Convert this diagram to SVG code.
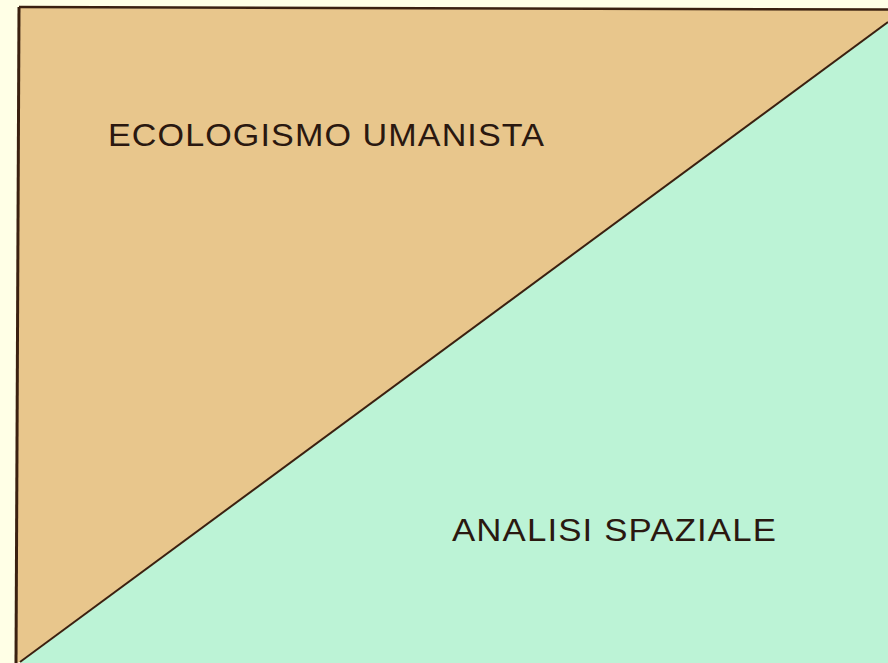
<svg xmlns="http://www.w3.org/2000/svg" width="888" height="663" viewBox="0 0 888 663">
<style>
.lbl{font-family:"Liberation Sans",Arial,sans-serif;font-size:31px;fill:#2a1810;letter-spacing:1px}
.edge{stroke:#3a2010;fill:none}
</style>
<rect x="0" y="0" width="888" height="663" fill="#FFFFE6"/>
<g id="ecologismo">
<polygon points="19,8 888,10 888,22 20,662 16,663" fill="#E8C68C"/>
<text class="lbl" x="108" y="146" textLength="437" lengthAdjust="spacingAndGlyphs">ECOLOGISMO UMANISTA</text>
</g>
<g id="analisi">
<polygon points="888,22 888,663 20,663" fill="#BCF3D6"/>
<text class="lbl" x="452" y="541" textLength="325" lengthAdjust="spacingAndGlyphs">ANALISI SPAZIALE</text>
</g>
<g id="connectors">
<line class="edge" x1="19" y1="7" x2="888" y2="9.5" stroke-width="2.5"/>
<line class="edge" x1="19" y1="7" x2="16" y2="663" stroke-width="3"/>
<line class="edge" x1="20" y1="662" x2="888" y2="22" stroke-width="2"/>
</g>
</svg>
